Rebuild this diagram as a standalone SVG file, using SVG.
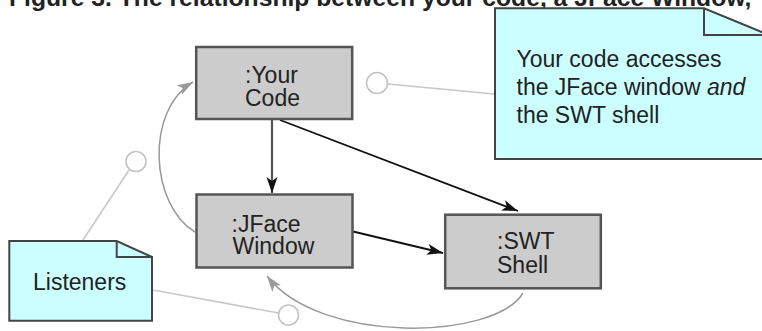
<svg xmlns="http://www.w3.org/2000/svg" width="762" height="331" viewBox="0 0 762 331">
  <style>
    .title { font-family: "Liberation Sans", Arial, sans-serif; font-weight: bold; font-size: 24.7px; fill: #222; }
    .lbl { font-family: "Liberation Sans", Arial, sans-serif; font-size: 23px; fill: #222; }
    .box { fill: #cccccc; stroke: #555; stroke-width: 2.5; }
    .note { fill: #ccffff; stroke: #444; stroke-width: 2; stroke-linejoin: miter; }
    .fold { fill: none; stroke: #444; stroke-width: 2; }
    .msg { fill: none; stroke: #111; stroke-width: 1.8; }
    .msg-down { fill: none; stroke: #555; stroke-width: 2.2; }
    .callback { fill: none; stroke: #999; stroke-width: 1.5; }
    .lolly { fill: #fff; stroke: #c4c4c4; stroke-width: 1.6; }
    .anchor { fill: none; stroke: #c8c8c8; stroke-width: 1.6; }
  </style>
  <defs>
    <marker id="headDark" markerUnits="userSpaceOnUse" markerWidth="18" markerHeight="12" refX="16" refY="6" orient="auto">
      <path d="M0,0.5 L16,6 L0,11.5 L4,6 Z" fill="#111"/>
    </marker>
    <marker id="headGray" markerUnits="userSpaceOnUse" markerWidth="18" markerHeight="12" refX="16" refY="6" orient="auto">
      <path d="M0,0.5 L16,6 L0,11.5 L4,6 Z" fill="#999"/>
    </marker>
  </defs>

  <rect width="762" height="331" fill="#ffffff"/>

  <text class="title" x="9" y="6">Figure 3. The relationship between your code, a JFace Window,</text>

  <g id="connectors">
    <!-- calls made by your code -->
    <line class="msg-down" x1="272" y1="120" x2="272" y2="193" marker-end="url(#headDark)"/>
    <line class="msg" x1="280" y1="120" x2="518" y2="211" marker-end="url(#headDark)"/>
    <line class="msg" x1="353" y1="231.5" x2="443" y2="253" marker-end="url(#headDark)"/>
    <!-- callbacks -->
    <path class="callback" d="M195,232 C150,205 145,110 193,82" marker-end="url(#headGray)"/>
    <path class="callback" d="M523,293 C495,340 320,345 267,276" marker-end="url(#headGray)"/>
    <!-- note anchors -->
    <line class="anchor" x1="388" y1="84" x2="494" y2="94"/>
    <circle class="lolly" cx="377" cy="83" r="10.5"/>
    <line class="anchor" x1="129" y1="170" x2="83" y2="240"/>
    <circle class="lolly" cx="136" cy="161.5" r="10"/>
    <line class="anchor" x1="153" y1="290" x2="278.5" y2="313"/>
    <circle class="lolly" cx="288.5" cy="315" r="10"/>
  </g>

  <g id="your-code">
    <rect class="box" x="196.2" y="47" width="156" height="72"/>
    <text class="lbl"><tspan x="245" y="82.5">:Your</tspan><tspan x="245" y="105.5">Code</tspan></text>
  </g>

  <g id="jface-window">
    <rect class="box" x="196.5" y="194.5" width="156" height="73"/>
    <text class="lbl"><tspan x="231.5" y="231.5">:JFace</tspan><tspan x="232.5" y="254">Window</tspan></text>
  </g>

  <g id="swt-shell">
    <rect class="box" x="445.2" y="214.7" width="155.6" height="73.6"/>
    <text class="lbl"><tspan x="497" y="248.5">:SWT</tspan><tspan x="497" y="272.5">Shell</tspan></text>
  </g>

  <g id="note-access">
    <path class="note" d="M495,8.3 L704,8.3 L770,35.5 L770,159 L495,159 Z"/>
    <path class="fold" d="M704,8.3 L704,35 L770,35"/>
    <text class="lbl"><tspan x="516.5" y="67">Your code accesses</tspan><tspan x="516.5" y="95">the JFace window <tspan font-style="italic">and</tspan></tspan><tspan x="516.5" y="123">the SWT shell</tspan></text>
  </g>

  <g id="note-listeners">
    <path class="note" d="M9.3,241 L116.7,241 L152,257 L152,320.7 L9.3,320.7 Z"/>
    <path class="fold" d="M116.7,241 L116.7,257 L152,257"/>
    <text class="lbl" x="33" y="290">Listeners</text>
  </g>
</svg>
